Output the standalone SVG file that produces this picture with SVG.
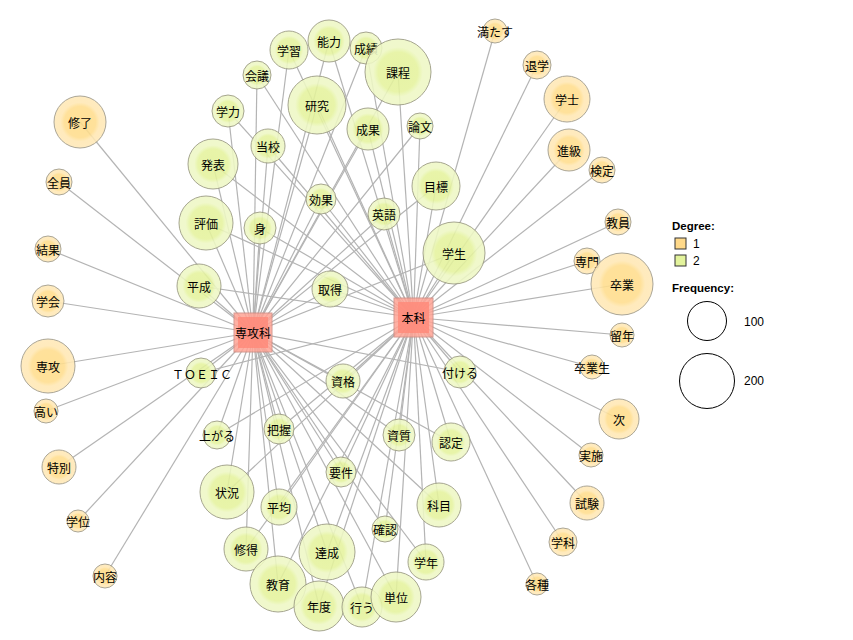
<svg xmlns="http://www.w3.org/2000/svg" width="853" height="640" viewBox="0 0 853 640">
<defs>
<radialGradient id="gG" cx="50%" cy="50%" r="50%">
<stop offset="0" stop-color="#e3f29a"/>
<stop offset="0.6" stop-color="#e5f39e"/>
<stop offset="0.75" stop-color="#eef8c4"/>
<stop offset="1" stop-color="#eff8c6"/>
</radialGradient>
<radialGradient id="gO" cx="50%" cy="50%" r="50%">
<stop offset="0" stop-color="#ffdc88"/>
<stop offset="0.6" stop-color="#ffde8e"/>
<stop offset="0.75" stop-color="#ffe8b4"/>
<stop offset="1" stop-color="#ffe9b8"/>
</radialGradient>
<style>
.e line{stroke:#b4b4b4;stroke-width:1.2}
.g circle{fill:url(#gG);stroke:#9a9a80;stroke-width:1;opacity:0.88}
.o circle{fill:url(#gO);stroke:#a09a88;stroke-width:1;opacity:0.88}
.hub rect.a{fill:#ffa394;stroke:#d08a80;stroke-width:1;opacity:0.85}
.hub rect.b{fill:#ff8878;opacity:0.8}
text{font-family:"Noto Sans CJK JP","Noto Sans",sans-serif;font-size:12px;fill:#000;text-anchor:middle;dominant-baseline:central}
.lg{font-family:"Liberation Sans",Arial,sans-serif;text-anchor:start;dominant-baseline:auto}
</style>
</defs>
<rect width="853" height="640" fill="#fff"/>
<g id="edges" class="e">
<!-- green nodes to both hubs -->
<line x1="289" y1="50" x2="253" y2="332.5"/><line x1="289" y1="50" x2="413.5" y2="317.5"/>
<line x1="329" y1="41" x2="253" y2="332.5"/><line x1="329" y1="41" x2="413.5" y2="317.5"/>
<line x1="366" y1="48" x2="253" y2="332.5"/><line x1="366" y1="48" x2="413.5" y2="317.5"/>
<line x1="398" y1="72" x2="253" y2="332.5"/><line x1="398" y1="72" x2="413.5" y2="317.5"/>
<line x1="257" y1="75" x2="253" y2="332.5"/><line x1="257" y1="75" x2="413.5" y2="317.5"/>
<line x1="317" y1="105" x2="253" y2="332.5"/><line x1="317" y1="105" x2="413.5" y2="317.5"/>
<line x1="228" y1="111" x2="253" y2="332.5"/><line x1="228" y1="111" x2="413.5" y2="317.5"/>
<line x1="368" y1="129" x2="253" y2="332.5"/><line x1="368" y1="129" x2="413.5" y2="317.5"/>
<line x1="420" y1="126" x2="253" y2="332.5"/><line x1="420" y1="126" x2="413.5" y2="317.5"/>
<line x1="268" y1="146" x2="253" y2="332.5"/><line x1="268" y1="146" x2="413.5" y2="317.5"/>
<line x1="213" y1="164" x2="253" y2="332.5"/><line x1="213" y1="164" x2="413.5" y2="317.5"/>
<line x1="321" y1="199" x2="253" y2="332.5"/><line x1="321" y1="199" x2="413.5" y2="317.5"/>
<line x1="436" y1="186" x2="253" y2="332.5"/><line x1="436" y1="186" x2="413.5" y2="317.5"/>
<line x1="384" y1="214" x2="253" y2="332.5"/><line x1="384" y1="214" x2="413.5" y2="317.5"/>
<line x1="206" y1="223" x2="253" y2="332.5"/><line x1="206" y1="223" x2="413.5" y2="317.5"/>
<line x1="260" y1="228" x2="253" y2="332.5"/><line x1="260" y1="228" x2="413.5" y2="317.5"/>
<line x1="454" y1="253" x2="253" y2="332.5"/><line x1="454" y1="253" x2="413.5" y2="317.5"/>
<line x1="199" y1="286" x2="253" y2="332.5"/><line x1="199" y1="286" x2="413.5" y2="317.5"/>
<line x1="330" y1="289" x2="253" y2="332.5"/><line x1="330" y1="289" x2="413.5" y2="317.5"/>
<line x1="201" y1="373" x2="253" y2="332.5"/><line x1="201" y1="373" x2="413.5" y2="317.5"/>
<line x1="343" y1="381" x2="253" y2="332.5"/><line x1="343" y1="381" x2="413.5" y2="317.5"/>
<line x1="460" y1="372" x2="253" y2="332.5"/><line x1="460" y1="372" x2="413.5" y2="317.5"/>
<line x1="217" y1="435" x2="253" y2="332.5"/><line x1="217" y1="435" x2="413.5" y2="317.5"/>
<line x1="279" y1="429" x2="253" y2="332.5"/><line x1="279" y1="429" x2="413.5" y2="317.5"/>
<line x1="399" y1="435" x2="253" y2="332.5"/><line x1="399" y1="435" x2="413.5" y2="317.5"/>
<line x1="451" y1="442" x2="253" y2="332.5"/><line x1="451" y1="442" x2="413.5" y2="317.5"/>
<line x1="341" y1="472" x2="253" y2="332.5"/><line x1="341" y1="472" x2="413.5" y2="317.5"/>
<line x1="227" y1="492" x2="253" y2="332.5"/><line x1="227" y1="492" x2="413.5" y2="317.5"/>
<line x1="279" y1="507" x2="253" y2="332.5"/><line x1="279" y1="507" x2="413.5" y2="317.5"/>
<line x1="439" y1="505" x2="253" y2="332.5"/><line x1="439" y1="505" x2="413.5" y2="317.5"/>
<line x1="385" y1="529" x2="253" y2="332.5"/><line x1="385" y1="529" x2="413.5" y2="317.5"/>
<line x1="246" y1="549" x2="253" y2="332.5"/><line x1="246" y1="549" x2="413.5" y2="317.5"/>
<line x1="327" y1="552" x2="253" y2="332.5"/><line x1="327" y1="552" x2="413.5" y2="317.5"/>
<line x1="426" y1="562" x2="253" y2="332.5"/><line x1="426" y1="562" x2="413.5" y2="317.5"/>
<line x1="278" y1="584" x2="253" y2="332.5"/><line x1="278" y1="584" x2="413.5" y2="317.5"/>
<line x1="319" y1="606" x2="253" y2="332.5"/><line x1="319" y1="606" x2="413.5" y2="317.5"/>
<line x1="362" y1="607" x2="253" y2="332.5"/><line x1="362" y1="607" x2="413.5" y2="317.5"/>
<line x1="396" y1="597" x2="253" y2="332.5"/><line x1="396" y1="597" x2="413.5" y2="317.5"/>
<!-- orange to 専攻科 -->
<line x1="80" y1="122" x2="253" y2="332.5"/>
<line x1="59" y1="182" x2="253" y2="332.5"/>
<line x1="48" y1="249" x2="253" y2="332.5"/>
<line x1="48" y1="301" x2="253" y2="332.5"/>
<line x1="48" y1="366" x2="253" y2="332.5"/>
<line x1="46" y1="411" x2="253" y2="332.5"/>
<line x1="59" y1="467" x2="253" y2="332.5"/>
<line x1="78" y1="521" x2="253" y2="332.5"/>
<line x1="105" y1="576" x2="253" y2="332.5"/>
<!-- orange to 本科 -->
<line x1="495" y1="31" x2="413.5" y2="317.5"/>
<line x1="537" y1="65" x2="413.5" y2="317.5"/>
<line x1="567" y1="99" x2="413.5" y2="317.5"/>
<line x1="569" y1="150" x2="413.5" y2="317.5"/>
<line x1="602" y1="170" x2="413.5" y2="317.5"/>
<line x1="618" y1="222" x2="413.5" y2="317.5"/>
<line x1="587" y1="261" x2="413.5" y2="317.5"/>
<line x1="622" y1="284" x2="413.5" y2="317.5"/>
<line x1="622" y1="335" x2="413.5" y2="317.5"/>
<line x1="592" y1="367" x2="413.5" y2="317.5"/>
<line x1="619" y1="419" x2="413.5" y2="317.5"/>
<line x1="591" y1="455" x2="413.5" y2="317.5"/>
<line x1="587" y1="503" x2="413.5" y2="317.5"/>
<line x1="563" y1="542" x2="413.5" y2="317.5"/>
<line x1="537" y1="584" x2="413.5" y2="317.5"/>
</g>
<g id="nodes">
<g id="n-gakushu" class="g"><circle cx="289" cy="50" r="19"/><text x="289" y="50">学習</text></g>
<g id="n-noryoku" class="g"><circle cx="329" cy="41" r="21"/><text x="329" y="41">能力</text></g>
<g id="n-seiseki" class="g"><circle cx="366" cy="48" r="16"/><text x="366" y="48">成績</text></g>
<g id="n-katei" class="g"><circle cx="398" cy="72" r="33"/><text x="398" y="72">課程</text></g>
<g id="n-kaigi" class="g"><circle cx="257" cy="75" r="14"/><text x="257" y="75">会議</text></g>
<g id="n-kenkyu" class="g"><circle cx="317" cy="105" r="29"/><text x="317" y="105">研究</text></g>
<g id="n-gakuryoku" class="g"><circle cx="228" cy="111" r="16"/><text x="228" y="111">学力</text></g>
<g id="n-seika" class="g"><circle cx="368" cy="129" r="21"/><text x="368" y="129">成果</text></g>
<g id="n-ronbun" class="g"><circle cx="420" cy="126" r="13"/><text x="420" y="126">論文</text></g>
<g id="n-toko" class="g"><circle cx="268" cy="146" r="17"/><text x="268" y="146">当校</text></g>
<g id="n-happyo" class="g"><circle cx="213" cy="164" r="25"/><text x="213" y="164">発表</text></g>
<g id="n-koka" class="g"><circle cx="321" cy="199" r="15"/><text x="321" y="199">効果</text></g>
<g id="n-mokuhyo" class="g"><circle cx="436" cy="186" r="24"/><text x="436" y="186">目標</text></g>
<g id="n-eigo" class="g"><circle cx="384" cy="214" r="16"/><text x="384" y="214">英語</text></g>
<g id="n-hyoka" class="g"><circle cx="206" cy="223" r="27"/><text x="206" y="223">評価</text></g>
<g id="n-mi" class="g"><circle cx="260" cy="228" r="16"/><text x="260" y="228">身</text></g>
<g id="n-gakusei" class="g"><circle cx="454" cy="253" r="31"/><text x="454" y="253">学生</text></g>
<g id="n-heisei" class="g"><circle cx="199" cy="286" r="22"/><text x="199" y="286">平成</text></g>
<g id="n-shutoku" class="g"><circle cx="330" cy="289" r="18"/><text x="330" y="289">取得</text></g>
<g id="n-toeic" class="g"><circle cx="201" cy="373" r="15"/><text x="202" y="373">ＴＯＥＩＣ</text></g>
<g id="n-shikaku" class="g"><circle cx="343" cy="381" r="17"/><text x="343" y="381">資格</text></g>
<g id="n-tsukeru" class="g"><circle cx="460" cy="372" r="16"/><text x="460" y="372">付ける</text></g>
<g id="n-agaru" class="g"><circle cx="217" cy="435" r="14"/><text x="217" y="435">上がる</text></g>
<g id="n-haaku" class="g"><circle cx="279" cy="429" r="15"/><text x="279" y="429">把握</text></g>
<g id="n-shishitsu" class="g"><circle cx="399" cy="435" r="16"/><text x="399" y="435">資質</text></g>
<g id="n-nintei" class="g"><circle cx="451" cy="442" r="19"/><text x="451" y="442">認定</text></g>
<g id="n-yoken" class="g"><circle cx="341" cy="472" r="15"/><text x="341" y="472">要件</text></g>
<g id="n-jokyo" class="g"><circle cx="227" cy="492" r="27"/><text x="227" y="492">状況</text></g>
<g id="n-heikin" class="g"><circle cx="279" cy="507" r="18"/><text x="279" y="507">平均</text></g>
<g id="n-kamoku" class="g"><circle cx="439" cy="505" r="22"/><text x="439" y="505">科目</text></g>
<g id="n-kakunin" class="g"><circle cx="385" cy="529" r="13"/><text x="385" y="529">確認</text></g>
<g id="n-shutoku2" class="g"><circle cx="246" cy="549" r="22"/><text x="246" y="549">修得</text></g>
<g id="n-tassei" class="g"><circle cx="327" cy="552" r="28"/><text x="327" y="552">達成</text></g>
<g id="n-gakunen" class="g"><circle cx="426" cy="562" r="18"/><text x="426" y="562">学年</text></g>
<g id="n-kyoiku" class="g"><circle cx="278" cy="584" r="28"/><text x="278" y="584">教育</text></g>
<g id="n-nendo" class="g"><circle cx="319" cy="606" r="25"/><text x="319" y="606">年度</text></g>
<g id="n-okonau" class="g"><circle cx="362" cy="607" r="20"/><text x="362" y="607">行う</text></g>
<g id="n-tani" class="g"><circle cx="396" cy="597" r="25"/><text x="396" y="597">単位</text></g>

<g id="n-shuryo" class="o"><circle cx="80" cy="122" r="26"/><text x="80" y="122">修了</text></g>
<g id="n-zenin" class="o"><circle cx="59" cy="182" r="13"/><text x="59" y="182">全員</text></g>
<g id="n-kekka" class="o"><circle cx="48" cy="249" r="13"/><text x="48" y="249">結果</text></g>
<g id="n-gakkai" class="o"><circle cx="48" cy="301" r="16"/><text x="48" y="301">学会</text></g>
<g id="n-senko" class="o"><circle cx="48" cy="366" r="27"/><text x="48" y="366">専攻</text></g>
<g id="n-takai" class="o"><circle cx="46" cy="411" r="12"/><text x="46" y="411">高い</text></g>
<g id="n-tokubetsu" class="o"><circle cx="59" cy="467" r="17"/><text x="59" y="467">特別</text></g>
<g id="n-gakui" class="o"><circle cx="78" cy="521" r="11"/><text x="78" y="521">学位</text></g>
<g id="n-naiyo" class="o"><circle cx="105" cy="576" r="12"/><text x="105" y="576">内容</text></g>

<g id="n-mitasu" class="o"><circle cx="495" cy="31" r="12"/><text x="495" y="31">満たす</text></g>
<g id="n-taigaku" class="o"><circle cx="537" cy="65" r="14"/><text x="537" y="65">退学</text></g>
<g id="n-gakushi" class="o"><circle cx="567" cy="99" r="23"/><text x="567" y="99">学士</text></g>
<g id="n-shinkyu" class="o"><circle cx="569" cy="150" r="21"/><text x="569" y="150">進級</text></g>
<g id="n-kentei" class="o"><circle cx="602" cy="170" r="13"/><text x="602" y="170">検定</text></g>
<g id="n-kyoin" class="o"><circle cx="618" cy="222" r="13"/><text x="618" y="222">教員</text></g>
<g id="n-senmon" class="o"><circle cx="587" cy="261" r="13"/><text x="587" y="261">専門</text></g>
<g id="n-sotsugyo" class="o"><circle cx="622" cy="284" r="31"/><text x="622" y="284">卒業</text></g>
<g id="n-ryunen" class="o"><circle cx="622" cy="335" r="12"/><text x="622" y="335">留年</text></g>
<g id="n-sotsugyosei" class="o"><circle cx="592" cy="367" r="12"/><text x="592" y="367">卒業生</text></g>
<g id="n-tsugi" class="o"><circle cx="619" cy="419" r="20"/><text x="619" y="419">次</text></g>
<g id="n-jisshi" class="o"><circle cx="591" cy="455" r="12"/><text x="591" y="455">実施</text></g>
<g id="n-shiken" class="o"><circle cx="587" cy="503" r="17"/><text x="587" y="503">試験</text></g>
<g id="n-gakka" class="o"><circle cx="563" cy="542" r="14"/><text x="563" y="542">学科</text></g>
<g id="n-kakushu" class="o"><circle cx="537" cy="584" r="11"/><text x="537" y="584">各種</text></g>

<g id="n-senkoka" class="hub"><rect class="a" x="234" y="313" width="38" height="39"/><rect class="b" x="238" y="317" width="30" height="31"/><text x="253" y="332.5">専攻科</text></g>
<g id="n-honka" class="hub"><rect class="a" x="394" y="298" width="39" height="39"/><rect class="b" x="398" y="302" width="31" height="31"/><text x="413.5" y="317.5">本科</text></g>
</g>
<g id="legend">
<text class="lg" x="672" y="230" style="font-weight:bold;font-size:11.5px">Degree:</text>
<rect x="675" y="238" width="11" height="11" fill="#ffd98a" stroke="#333" stroke-width="1"/>
<text class="lg" x="693" y="248" style="font-size:12px">1</text>
<rect x="675" y="255" width="11" height="11" fill="#e3f39c" stroke="#333" stroke-width="1"/>
<text class="lg" x="693" y="265" style="font-size:12px">2</text>
<text class="lg" x="672" y="292" style="font-weight:bold;font-size:11.5px">Frequency:</text>
<circle cx="707" cy="321" r="19.5" fill="none" stroke="#000" stroke-width="1"/>
<text class="lg" x="744" y="326" style="font-size:12px">100</text>
<circle cx="707" cy="381" r="27.5" fill="none" stroke="#000" stroke-width="1"/>
<text class="lg" x="744" y="385" style="font-size:12px">200</text>
</g>
</svg>
